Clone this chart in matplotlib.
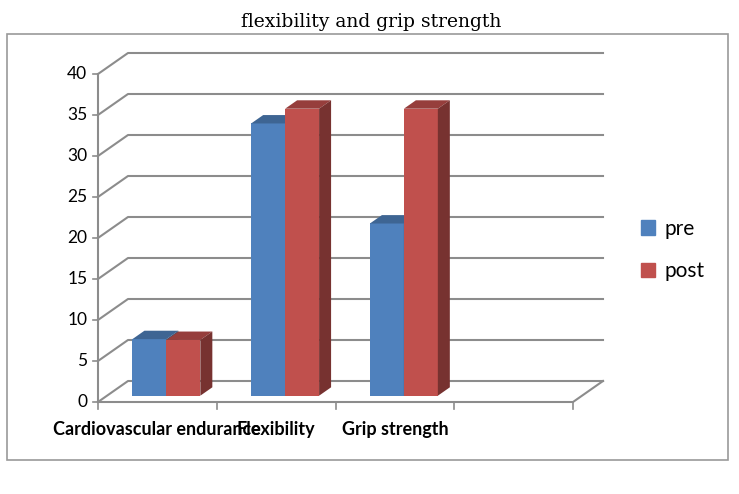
import matplotlib.pyplot as plt
import matplotlib.colors as mc
from matplotlib.patches import Polygon, Rectangle, Patch

categories = ['Cardiovascular endurance', 'Flexibility', 'Grip strength', '']
pre = [6.9, 33.2, 21.0]
post = [6.8, 35.0, 35.0]
yticks = [0, 5, 10, 15, 20, 25, 30, 35, 40]

blue = '#4F81BD'
red = '#C0504D'
grid_c = '#8C8C8C'

W, H = 739, 494
fig = plt.figure(figsize=(W / 100, H / 100), dpi=100)

# front plane of the plot in pixels
x0, x1, y0, y1 = 98, 573, 402, 74
ax = fig.add_axes([x0 / W, (H - y0) / H, (x1 - x0) / W, (y0 - y1) / H])
ncat = len(categories)
ax.set_xlim(0, ncat)
ax.set_ylim(0, 40)
ax.axis('off')

# depth of the fake 3D box in data units
DX = 30 / (x1 - x0) * ncat
DY = 21 / (y0 - y1) * 40

# back wall gridlines with the slanted left wall edges
for v in yticks:
    ax.plot([0, DX, ncat + DX], [v, v + DY, v + DY], color=grid_c, lw=1.5,
            clip_on=False, zorder=1)
    ax.plot([-0.045, 0], [v, v], color=grid_c, lw=1.2, clip_on=False)
    ax.text(-0.09, v, str(v), ha='right', va='center', fontsize=12.5,
            family='Lato')
# floor right edge and front axis lines
ax.plot([0, ncat, ncat + DX], [0, 0, DY], color=grid_c, lw=1.5, clip_on=False, zorder=5)
ax.plot([0, 0], [0, 40], color=grid_c, lw=1.5, clip_on=False, zorder=5)
for i in range(ncat + 1):
    ax.plot([i, i], [0, -0.9], color=grid_c, lw=1.2, clip_on=False)
# the first label runs into the second one, as in the original chart
for i, c in enumerate(categories):
    ax.text(i + 0.5, -3.4, c, ha='center', va='center', fontsize=13,
            fontweight='bold', family='Lato')

# bars
bw = 0.286
f0, f1 = 0.3, 0.7


def shade(col, k):
    r, g, b = mc.to_rgb(col)
    return (r * k, g * k, b * k)


for series, col, off in [(pre, blue, -bw), (post, red, 0.0)]:
    xs = [i + 0.5 + off + f0 * DX for i in range(len(series))]
    ax.bar(xs, series, width=bw, bottom=f0 * DY, align='edge', color=col, zorder=3)
    ddx = (f1 - f0) * DX
    ddy = (f1 - f0) * DY
    for x, v in zip(xs, series):
        top = f0 * DY + v
        ax.add_patch(Polygon([[x, top], [x + bw, top], [x + bw + ddx, top + ddy],
                              [x + ddx, top + ddy]], closed=True,
                             facecolor=shade(col, 0.78), edgecolor='none', zorder=3))
        ax.add_patch(Polygon([[x + bw, f0 * DY], [x + bw, top], [x + bw + ddx, top + ddy],
                              [x + bw + ddx, f0 * DY + ddy]], closed=True,
                             facecolor=shade(col, 0.62), edgecolor='none', zorder=3))

# legend
fig.legend(handles=[Patch(color=blue, label='pre'), Patch(color=red, label='post')],
           loc='center left', bbox_to_anchor=(622 / W, (H - 250) / H), frameon=False,
           handlelength=0.7, handleheight=0.7, handletextpad=0.45,
           labelspacing=1.1, prop={'family': 'Lato', 'size': 15})

# outer chart border and title
fig.add_artist(Rectangle((7 / W, (H - 460) / H), 721 / W, 426 / H, fill=False,
                         edgecolor='#9A9A9A', lw=1.2, transform=fig.transFigure))
fig.text(371 / W, (H - 22) / H, 'flexibility and grip strength', ha='center',
         va='center', fontsize=13.5, family='DejaVu Serif')

fig.savefig('out.png', dpi=100)
